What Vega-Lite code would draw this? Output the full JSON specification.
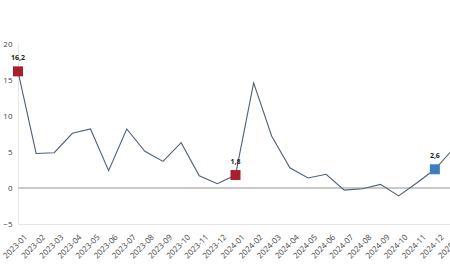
{
  "$schema": "https://vega.github.io/schema/vega-lite/v6.json",
  "width": 435,
  "height": 180,
  "autosize": {"type": "none"},
  "padding": {"left": 18, "top": 44, "right": 0, "bottom": 56},
  "background": "white",
  "config": {"view": {"stroke": null}, "font": "Open Sans"},
  "data": {
    "values": [
      {"month": "2023-01", "value": 16.2, "mark": "red", "label": "16,2"},
      {"month": "2023-02", "value": 4.8},
      {"month": "2023-03", "value": 4.9},
      {"month": "2023-04", "value": 7.6},
      {"month": "2023-05", "value": 8.2},
      {"month": "2023-06", "value": 2.4},
      {"month": "2023-07", "value": 8.2},
      {"month": "2023-08", "value": 5.1},
      {"month": "2023-09", "value": 3.7},
      {"month": "2023-10", "value": 6.3},
      {"month": "2023-11", "value": 1.7},
      {"month": "2023-12", "value": 0.6},
      {"month": "2024-01", "value": 1.8, "mark": "red", "label": "1,8"},
      {"month": "2024-02", "value": 14.6},
      {"month": "2024-03", "value": 7.2},
      {"month": "2024-04", "value": 2.8},
      {"month": "2024-05", "value": 1.4},
      {"month": "2024-06", "value": 1.9},
      {"month": "2024-07", "value": -0.3},
      {"month": "2024-08", "value": -0.1},
      {"month": "2024-09", "value": 0.5},
      {"month": "2024-10", "value": -1.1},
      {"month": "2024-11", "value": 0.7},
      {"month": "2024-12", "value": 2.6, "mark": "blue", "label": "2,6"},
      {"month": "2025-01", "value": 5.4}
    ]
  },
  "encoding": {
    "x": {
      "field": "month", "type": "ordinal",
      "scale": {"type": "point", "padding": 0},
      "axis": {
        "title": null, "labelAngle": -45, "labelFontSize": 8, "labelColor": "#444",
        "ticks": false, "domainColor": "#e6e6e6", "labelPadding": 9, "labelOffset": 5, "grid": false
      }
    },
    "y": {
      "field": "value", "type": "quantitative",
      "scale": {"domain": [-5, 20]},
      "axis": {
        "title": null, "values": [-5, 0, 5, 10, 15, 20], "labelFontSize": 8, "labelColor": "#444",
        "ticks": false, "domainColor": "#e6e6e6", "grid": false, "labelPadding": 6
      }
    }
  },
  "layer": [
    {
      "mark": {"type": "rule", "color": "#c8c8c8", "strokeWidth": 1.5},
      "encoding": {"y": {"datum": 0}, "x": null}
    },
    {
      "mark": {"type": "line", "color": "#4d6178", "strokeWidth": 1.1}
    },
    {
      "transform": [{"filter": "datum.mark != null"}],
      "mark": {"type": "square", "opacity": 1, "size": 100},
      "encoding": {
        "color": {
          "field": "mark", "type": "nominal",
          "scale": {"domain": ["red", "blue"], "range": ["#a8202e", "#3b7fbf"]},
          "legend": null
        }
      }
    },
    {
      "transform": [{"filter": "datum.mark != null"}],
      "mark": {"type": "text", "dy": -13, "fontSize": 7, "fontWeight": "bold", "color": "#222"},
      "encoding": {"text": {"field": "label"}}
    }
  ]
}
